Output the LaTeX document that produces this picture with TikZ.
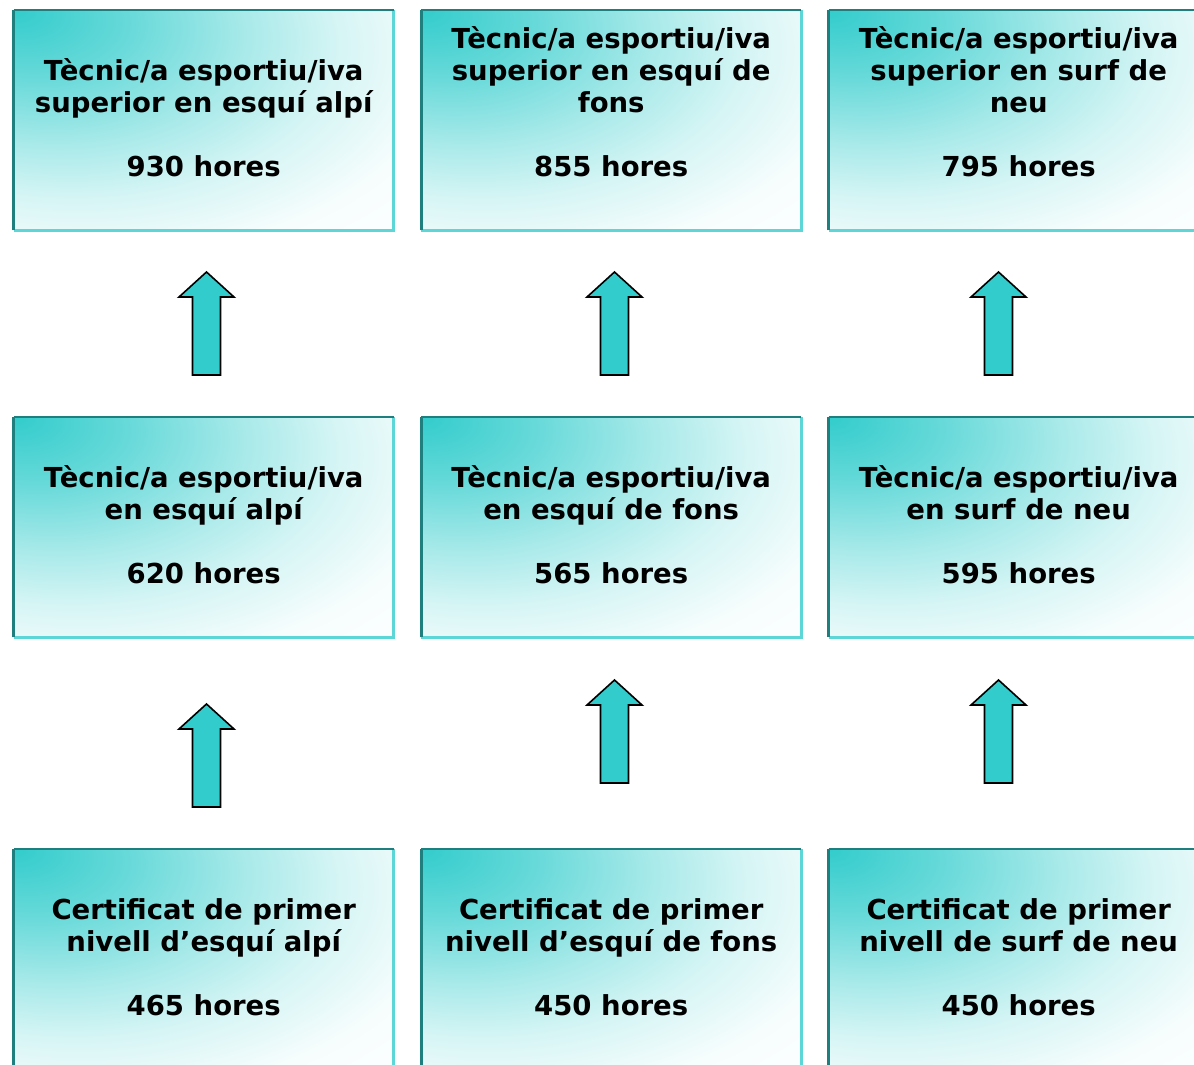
\documentclass[tikz,border=0pt]{standalone}
\usepackage{fontspec}
\setmainfont{DejaVu Sans}
\usetikzlibrary{calc,positioning}
\definecolor{BoxTeal}{HTML}{33CCCC}
\definecolor{EdgeDark}{HTML}{1F7F7F}
\definecolor{EdgeLight}{HTML}{5CD6D6}
\pgfdeclareradialshading{boxfade}{\pgfpoint{-25bp}{25bp}}{color(0bp)=(BoxTeal); color(12bp)=(BoxTeal!75); color(25bp)=(BoxTeal!42); color(35bp)=(BoxTeal!20); color(46bp)=(BoxTeal!4); color(60bp)=(white); color(110bp)=(white)}
\tikzset{
    block/.style = {rectangle, anchor=north west, inner sep=0pt,
        minimum width=380pt, minimum height=220pt,
        shade, shading=boxfade},
    darkedge/.style = {draw=EdgeDark, line width=3pt},
    lightedge/.style = {draw=EdgeLight, line width=3pt},
    txt/.style = {font=\fontsize{27.5}{32}\selectfont\bfseries, align=center,
        anchor=base, inner sep=0pt},
    input/.style = {coordinate},
    uparrow/.style = {draw=black, line width=1.6pt, fill=BoxTeal, line join=miter}
}
\def\blockarrow{%
    -- +(-14,0) -- +(-14,-78) -- +(-27.5,-78) -- +(0,-103) -- +(27.5,-78) -- +(14,-78) -- +(14,0) -- cycle
}
\newcommand{\tecnic}{Tècnic/a esportiu/iva}
\newcommand{\certif}{Certificat de primer}

\begin{document}
\begin{tikzpicture}[x=1pt, y=-1pt]
    \useasboundingbox (0,0) rectangle (1194,1065);
    \clip (0,0) rectangle (1194,1065);
    % the nine boxes
    \foreach \x [count=\c] in {13.5,421,828.5}{
        \foreach \y [count=\r] in {10,417,849}{
            \node [block] (box\r\c) at (\x,\y) {};
            \draw [lightedge] (box\r\c.north east) -- (box\r\c.south east) -- (box\r\c.south west);
            \draw [darkedge] (box\r\c.south west) -- (box\r\c.north west);
            \draw [darkedge, line width=2pt] (box\r\c.north west) -- (box\r\c.north east);
        }
    }
    % top row
    \node [txt] (title11) at ($(box11.north)+(0,102)$) {\tecnic\\superior en esquí alpí};
    \node [txt] (title12) at ($(box12.north)+(0,102)$) {\tecnic\\superior en esquí de\\fons};
    \node [txt] (title13) at ($(box13.north)+(0,102)$) {\tecnic\\superior en surf de\\neu};
    \node [txt] (hours11) at ($(box11.north)+(0,166)$) {930 hores};
    \node [txt] (hours12) at ($(box12.north)+(0,166)$) {855 hores};
    \node [txt] (hours13) at ($(box13.north)+(0,166)$) {795 hores};
    % middle row
    \node [txt] (title21) at ($(box21.north)+(0,102)$) {\tecnic\\en esquí alpí};
    \node [txt] (title22) at ($(box22.north)+(0,102)$) {\tecnic\\en esquí de fons};
    \node [txt] (title23) at ($(box23.north)+(0,102)$) {\tecnic\\en surf de neu};
    \node [txt] (hours21) at ($(box21.north)+(0,166)$) {620 hores};
    \node [txt] (hours22) at ($(box22.north)+(0,166)$) {565 hores};
    \node [txt] (hours23) at ($(box23.north)+(0,166)$) {595 hores};
    % bottom row
    \node [txt] (title31) at ($(box31.north)+(0,102)$) {\certif\\nivell d’esquí alpí};
    \node [txt] (title32) at ($(box32.north)+(0,102)$) {\certif\\nivell d’esquí de fons};
    \node [txt] (title33) at ($(box33.north)+(0,102)$) {\certif\\nivell de surf de neu};
    \node [txt] (hours31) at ($(box31.north)+(0,166)$) {465 hores};
    \node [txt] (hours32) at ($(box32.north)+(0,166)$) {450 hores};
    \node [txt] (hours33) at ($(box33.north)+(0,166)$) {450 hores};
    % block arrows
    \foreach \x/\y [count=\a] in {206.5/375, 614.5/375, 998.5/375, 206.5/807, 614.5/783, 998.5/783}{
        \node [input] (arrow\a) at (\x,\y) {};
        \draw [uparrow] (arrow\a) \blockarrow;
    }
\end{tikzpicture}
\end{document}
